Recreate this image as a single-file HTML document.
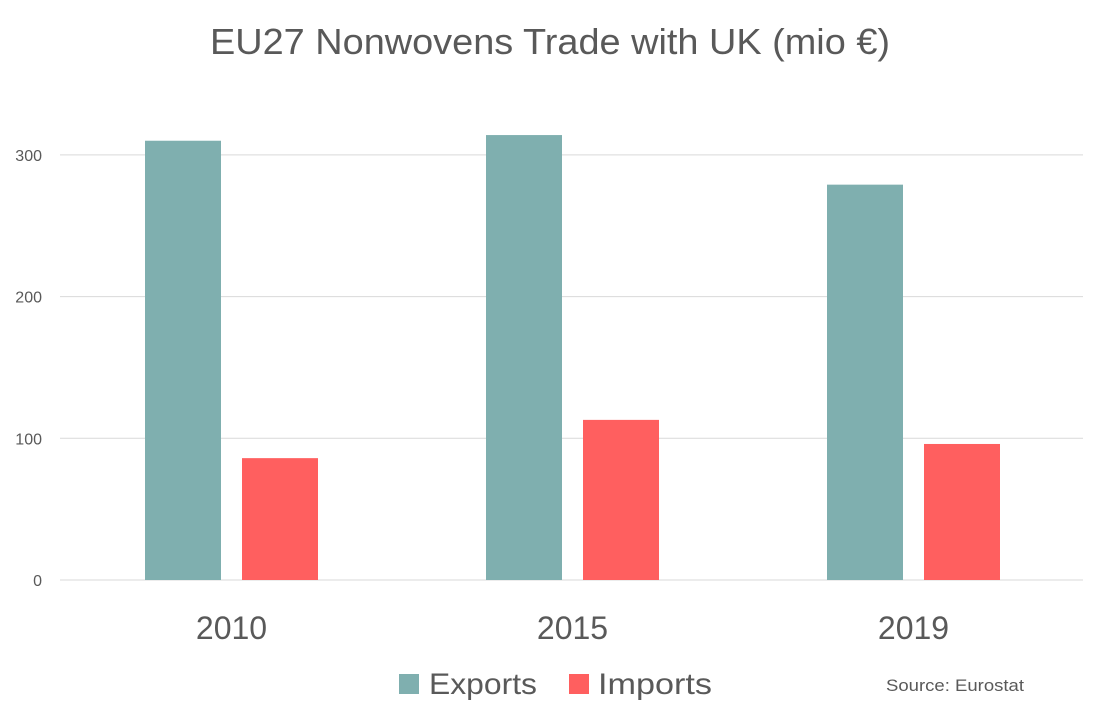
<!DOCTYPE html>
<html><head><meta charset="utf-8"><style>
body{margin:0;background:#fff;font-family:"Liberation Sans",sans-serif;}
svg text{font-family:"Liberation Sans",sans-serif;fill:#595959;}
</style></head><body>
<svg width="1100" height="719">
<text x="550" y="54" text-anchor="middle" font-size="36" textLength="680" lengthAdjust="spacingAndGlyphs">EU27 Nonwovens Trade with UK (mio €)</text>
<g id="grid"></g><g id="bars"></g><g id="xl"></g>
<g>
<rect x="399" y="674" width="20" height="20" fill="#7fafaf"/>
<text x="429" y="694" font-size="30" textLength="108" lengthAdjust="spacingAndGlyphs">Exports</text>
<rect x="569" y="674" width="20" height="20" fill="#ff5f5f"/>
<text x="598" y="694" font-size="30" textLength="114" lengthAdjust="spacingAndGlyphs">Imports</text>
</g>
<text x="886" y="691" font-size="17" fill="#333" textLength="138" lengthAdjust="spacingAndGlyphs">Source: Eurostat</text>
</svg>
<script>
const categories=["2010","2015","2019"];
const exportsVals=[310,314,279];
const importsVals=[86,113,96];
const ticks=[0,100,200,300];
const x0=61,x1=1084,yZero=580,pxPer=1.417;
const y=v=>yZero-v*pxPer;
const band=(x1-x0)/categories.length;
const ns="http://www.w3.org/2000/svg";
function mk(t,a,p){const e=document.createElementNS(ns,t);for(const k in a)e.setAttribute(k,a[k]);p.appendChild(e);return e;}
const g=document.getElementById('grid');
ticks.forEach(t=>{
 const l=mk('line',{x1:60,x2:1083,y1:y(t),y2:y(t),stroke:'#d9d9d9','stroke-width':1},g);
 
 
 const tx=mk('text',{x:42,y:y(t)+6,'text-anchor':'end','font-size':16},g);
 tx.textContent=t;
 
 
});
const b=document.getElementById('bars'),xl=document.getElementById('xl');
categories.forEach((c,i)=>{
 const cx=x0+band*(i+0.5);
 const e=mk('rect',{x:cx-86.5,y:y(exportsVals[i]),width:76,height:exportsVals[i]*pxPer,fill:'#7fafaf'},b);
 
 
 const m=mk('rect',{x:cx+10.5,y:y(importsVals[i]),width:76,height:importsVals[i]*pxPer,fill:'#ff5f5f'},b);
 
 
 const t=mk('text',{x:cx,y:639,'text-anchor':'middle','font-size':32},xl);
 t.textContent=c;
 
 
});
</script>
</body></html>
